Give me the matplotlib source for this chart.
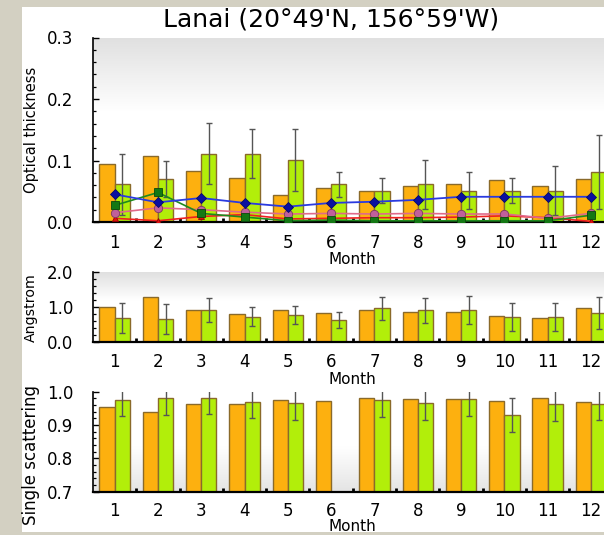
import numpy as np
import matplotlib
matplotlib.use("Agg")
import matplotlib.pyplot as plt
from matplotlib.colors import LinearSegmentedColormap
from matplotlib.patches import Rectangle
from matplotlib.ticker import MultipleLocator, FixedLocator

plt.rcParams["font.family"] = ["DejaVu Sans"]

# ---------------------------------------------------------------- data
months = np.arange(1, 13)
month_labels = [str(m) for m in months]
title = "Lanai (20°49'N, 156°59'W)"

# Optical thickness
aot_orange = [0.094, 0.107, 0.083, 0.072, 0.044, 0.055, 0.051, 0.058, 0.061, 0.068, 0.058, 0.070]
aot_green = [0.061, 0.070, 0.111, 0.111, 0.101, 0.061, 0.051, 0.061, 0.051, 0.051, 0.051, 0.081]
aot_green_err = [0.05, 0.03, 0.05, 0.04, 0.05, 0.02, 0.02, 0.04, 0.03, 0.02, 0.04, 0.06]
aot_blue = [0.045, 0.032, 0.039, 0.031, 0.025, 0.031, 0.033, 0.036, 0.041, 0.041, 0.041, 0.041]
aot_darkgreen = [0.027, 0.048, 0.014, 0.008, 0.002, 0.003, 0.002, 0.002, 0.002, 0.002, 0.002, 0.011]
aot_pink = [0.015, 0.023, 0.020, 0.016, 0.013, 0.014, 0.013, 0.014, 0.013, 0.013, 0.006, 0.014]
aot_red = [0.006, 0.002, 0.009, 0.012, 0.005, 0.006, 0.007, 0.007, 0.008, 0.010, 0.007, 0.001]

# Angstrom exponent
ang_orange = [1.00, 1.29, 0.92, 0.78, 0.90, 0.81, 0.90, 0.86, 0.84, 0.74, 0.69, 0.95]
ang_green = [0.69, 0.65, 0.90, 0.72, 0.76, 0.63, 0.95, 0.90, 0.92, 0.71, 0.71, 0.83]
ang_green_err = [0.43, 0.43, 0.34, 0.26, 0.25, 0.23, 0.32, 0.36, 0.40, 0.41, 0.39, 0.46]

# Single scattering albedo (no green value for June)
ssa_orange = [0.953, 0.938, 0.964, 0.962, 0.975, 0.973, 0.982, 0.977, 0.977, 0.972, 0.980, 0.970]
ssa_green = [0.976, 0.980, 0.982, 0.970, 0.966, np.nan, 0.975, 0.966, 0.977, 0.930, 0.962, 0.964]
ssa_green_err = [0.05, 0.05, 0.05, 0.05, 0.05, np.nan, 0.05, 0.05, 0.05, 0.05, 0.05, 0.05]

aot_ticks = [0.0, 0.1, 0.2, 0.3]
aot_ticklabels = ["0.0", "0.1", "0.2", "0.3"]
ang_ticks = [0.0, 1.0, 2.0]
ang_ticklabels = ["0.0", "1.0", "2.0"]
ssa_ticks = [0.7, 0.8, 0.9, 1.0]
ssa_ticklabels = ["0.7", "0.8", "0.9", "1.0"]

# ---------------------------------------------------------------- style
ORANGE = "#FDB00F"
GREEN = "#B2EE0A"
EDGE = "#8a6a2a"
ERR = "#555555"
BAR_W = 0.35
TICK_FS = 12

W, H = 604, 535
fig = plt.figure(figsize=(W / 100, H / 100), dpi=100)
fig.patch.set_facecolor("#d3d0c2")
fig.patches.append(Rectangle((22 / W, 1 - 532 / H), (W - 22) / W, (532 - 7) / H,
                             transform=fig.transFigure, facecolor="white",
                             edgecolor="none", zorder=-10))


def px_axes(top, bottom):
    left = 93 / W
    width = 12 * 43.3 / W
    return fig.add_axes([left, 1 - bottom / H, width, (bottom - top) / H])


def add_gradient(ax, stops):
    cmap = LinearSegmentedColormap.from_list("bg", stops)
    grad = np.linspace(0, 1, 256).reshape(-1, 1)
    ax.imshow(grad, cmap=cmap, origin="lower", extent=[0, 1, 0, 1],
              transform=ax.transAxes, aspect="auto", zorder=0,
              interpolation="bilinear")


def style_axes(ax, ylim, yticks, yticklabels, yminor, ylabel, ylabel_fs, ylabel_y,
               xpad=8.4, xlabelpad=0.3):
    ax.set_xlim(0.5, 12.5)
    ax.set_ylim(*ylim)
    ax.spines["top"].set_visible(False)
    ax.spines["right"].set_visible(False)
    ax.spines["left"].set_linewidth(1.2)
    ax.spines["bottom"].set_linewidth(1.6)
    ax.xaxis.set_major_locator(FixedLocator(months))
    ax.set_xticklabels(month_labels)
    ax.xaxis.set_minor_locator(FixedLocator(months[:-1] + 0.5))
    ax.yaxis.set_major_locator(FixedLocator(yticks))
    ax.set_yticklabels(yticklabels)
    ax.yaxis.set_minor_locator(MultipleLocator(yminor))
    ax.tick_params(axis="x", which="major", length=0, pad=xpad, labelsize=TICK_FS)
    ax.tick_params(axis="x", which="minor", direction="in", length=3, width=2)
    ax.tick_params(axis="y", which="major", direction="in", length=4, width=1,
                   pad=14, labelsize=TICK_FS)
    ax.tick_params(axis="y", which="minor", direction="in", length=2.5, width=0.9)
    ax.set_xlabel("Month", fontsize=11, labelpad=xlabelpad)
    ax.set_ylabel(ylabel, fontsize=ylabel_fs, va="center")
    ax.yaxis.set_label_coords(-0.119, ylabel_y)


def draw_bars(ax, orange, green, green_err):
    ax.bar(months - BAR_W, orange, width=BAR_W, align="edge", color=ORANGE,
           edgecolor=EDGE, linewidth=1, zorder=2)
    ax.bar(months, green, width=BAR_W, align="edge", color=GREEN,
           edgecolor=EDGE, linewidth=1, zorder=2)
    ax.errorbar(months + BAR_W / 2, green, yerr=green_err, fmt="none",
                ecolor=ERR, elinewidth=1, capsize=2.5, capthick=1, zorder=3)


# ---------------------------------------------------------------- optical thickness
ax1 = px_axes(37.5, 222)
add_gradient(ax1, [(0, "white"), (0.6, "white"), (1, "#e0e0e0")])
draw_bars(ax1, aot_orange, aot_green, aot_green_err)
ax1.plot(months, aot_red, color="#ee2020", lw=1.2, marker="^", ms=5,
         mfc="#dd1010", mec="#990000", mew=0.6, zorder=4)
ax1.plot(months, aot_pink, color="#e06a8a", lw=1.2, marker="o", ms=6,
         mfc="#c0609a", mec="#7a3a60", mew=0.6, zorder=5)
ax1.plot(months, aot_darkgreen, color="#1e8a1e", lw=1.2, marker="s", ms=6,
         mfc="#147814", mec="#0a4a0a", mew=0.6, zorder=6)
ax1.plot(months, aot_blue, color="#2a3ae0", lw=1.3, marker="D", ms=5,
         mfc="#0a10a0", mec="#05086a", mew=0.6, zorder=7)
style_axes(ax1, (0, 0.3), aot_ticks, aot_ticklabels, 0.02,
           "Optical thickness", 10.5, 0.5)

# ---------------------------------------------------------------- angstrom
ax2 = px_axes(271.7, 341.7)
add_gradient(ax2, [(0, "white"), (0.6, "white"), (1, "#e0e0e0")])
draw_bars(ax2, ang_orange, ang_green, ang_green_err)
style_axes(ax2, (0, 2.0), ang_ticks, ang_ticklabels, 0.2,
           "Angstrom", 10.2, 0.49)

# ---------------------------------------------------------------- single scattering
ax3 = px_axes(391.7, 491.7)
add_gradient(ax3, [(0, "#e4e4e4"), (0.45, "white"), (1, "white")])
draw_bars(ax3, ssa_orange, ssa_green, ssa_green_err)
style_axes(ax3, (0.7, 1.0), ssa_ticks, ssa_ticklabels, 0.02,
           "Single scattering", 12, 0.367, xpad=7.2, xlabelpad=-0.8)

fig.text(331 / W, 1 - 27 / H, title, fontsize=18, ha="center", va="baseline")

fig.savefig("out.png", dpi=100, facecolor=fig.get_facecolor())
